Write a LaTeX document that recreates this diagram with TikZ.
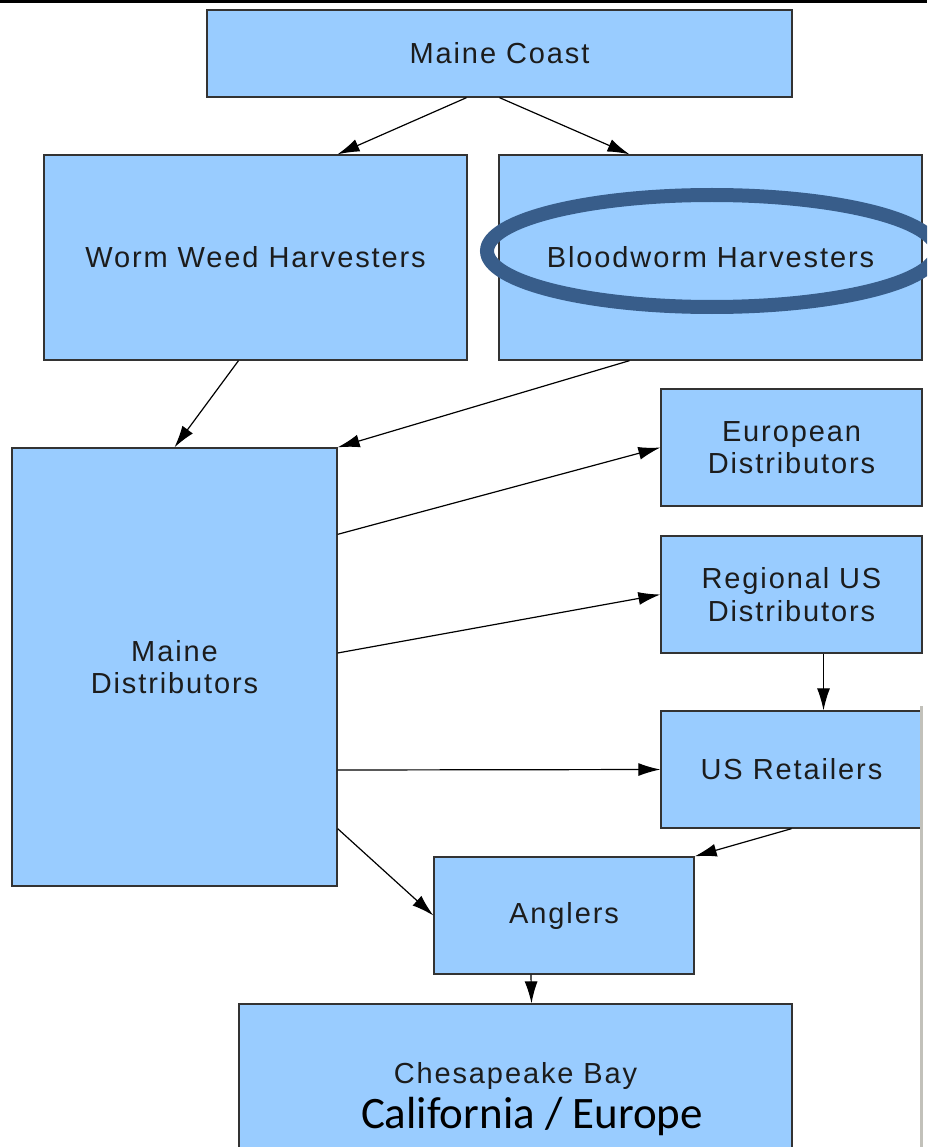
\documentclass[tikz,border=0pt]{standalone}
\usepackage{fontspec}
\usepackage{tikz}
\usetikzlibrary{arrows.meta}
\usetikzlibrary{positioning}
\newfontfamily\boxfont[LetterSpace=6.5]{Liberation Sans}
\newfontfamily\califont{Carlito}
\definecolor{boxblue}{HTML}{99CCFF}
\definecolor{boxedge}{HTML}{333333}
\definecolor{boxtext}{HTML}{1C1C1C}
\definecolor{ringblue}{HTML}{385D8A}
\definecolor{edgegray}{HTML}{C2C1BA}
\tikzstyle{every node}+=[inner sep=0pt]
\tikzstyle{block} = [rectangle, draw=boxedge, fill=boxblue, line width=1.3pt, text=boxtext, font=\boxfont\fontsize{29}{32.5}\selectfont, align=center]
\tikzstyle{line} = [draw, line width=1.2pt, -{Latex[length=22pt,width=13pt]}]
\tikzstyle{ring} = [draw=ringblue, line width=14pt]
\tikzstyle{overtext} = [font=\califont\fontsize{45}{54}\selectfont, text=black]

\begin{document}
\begin{tikzpicture}[node distance = 200pt, auto]
            \clip (0,0) rectangle (927pt,-1147pt);
            % Frame bits
            \fill [black] (0,0) rectangle (927pt,-3pt);
            % Place nodes
            \node [block, minimum width=585pt, minimum height=87pt] (coast) at (499.5pt,-53.5pt) {Maine Coast};
            \node [block, below of=coast, node distance=204pt, xshift=-244pt, minimum width=423pt, minimum height=205pt] (weed) {Worm Weed Harvesters};
            \node [block, right of=weed, node distance=455pt, minimum width=423pt, minimum height=205pt] (blood) {Bloodworm Harvesters};
            \node [block, below of=weed, node distance=409.5pt, xshift=-81pt, minimum width=325pt, minimum height=438pt] (mdist) {Maine\\Distributors};
            \node [block, below of=blood, node distance=190pt, xshift=81pt, minimum width=261pt, minimum height=117pt] (euro) {European\\Distributors};
            \node [block, below of=euro, node distance=147pt, minimum width=261pt, minimum height=117pt] (regus) {Regional US\\Distributors};
            \node [block, below of=regus, node distance=175pt, minimum width=261pt, minimum height=117pt] (retail) {US Retailers};
            \node [block, below of=retail, node distance=146pt, xshift=-227.5pt, minimum width=260pt, minimum height=117pt] (anglers) {Anglers};
            \node [block, below of=anglers, node distance=160.5pt, xshift=-48.5pt, minimum width=553pt, minimum height=144pt] (chesa) {Chesapeake Bay};
            \node [overtext, anchor=base] (calif) at ([xshift=16.5pt,yshift=-52pt]chesa.center) {California / Europe};
            % Highlight
            \draw [ring] ([xshift=1.5pt,yshift=6.5pt]blood.center) ellipse [x radius=225pt, y radius=56pt];
            % Draw edges
            \path [line] ([xshift=-33pt]coast.south) -- ([xshift=82pt]weed.north);
            \path [line] (coast.south) -- ([xshift=-81pt]blood.north);
            \path [line] ([xshift=-17pt]weed.south) -- (mdist.north);
            \path [line] ([xshift=-81pt]blood.south) -- (mdist.north east);
            \path [line] ([yshift=-87pt]mdist.north east) -- (euro.west);
            \path [line] ([yshift=14pt]mdist.east) -- (regus.west);
            \path [line] ([yshift=-103pt]mdist.east) -- (retail.west);
            \path [line] ([yshift=58pt]mdist.south east) -- (anglers.west);
            \path [line] ([xshift=32pt]regus.south) -- ([xshift=32pt]retail.north);
            \path [line] (retail.south) -- (anglers.north east);
            \path [line] ([xshift=-33pt]anglers.south) -- ([xshift=16pt]chesa.north);
            \fill [edgegray] (920pt,-706pt) rectangle (923pt,-1147pt);
          \end{tikzpicture}
\end{document}
